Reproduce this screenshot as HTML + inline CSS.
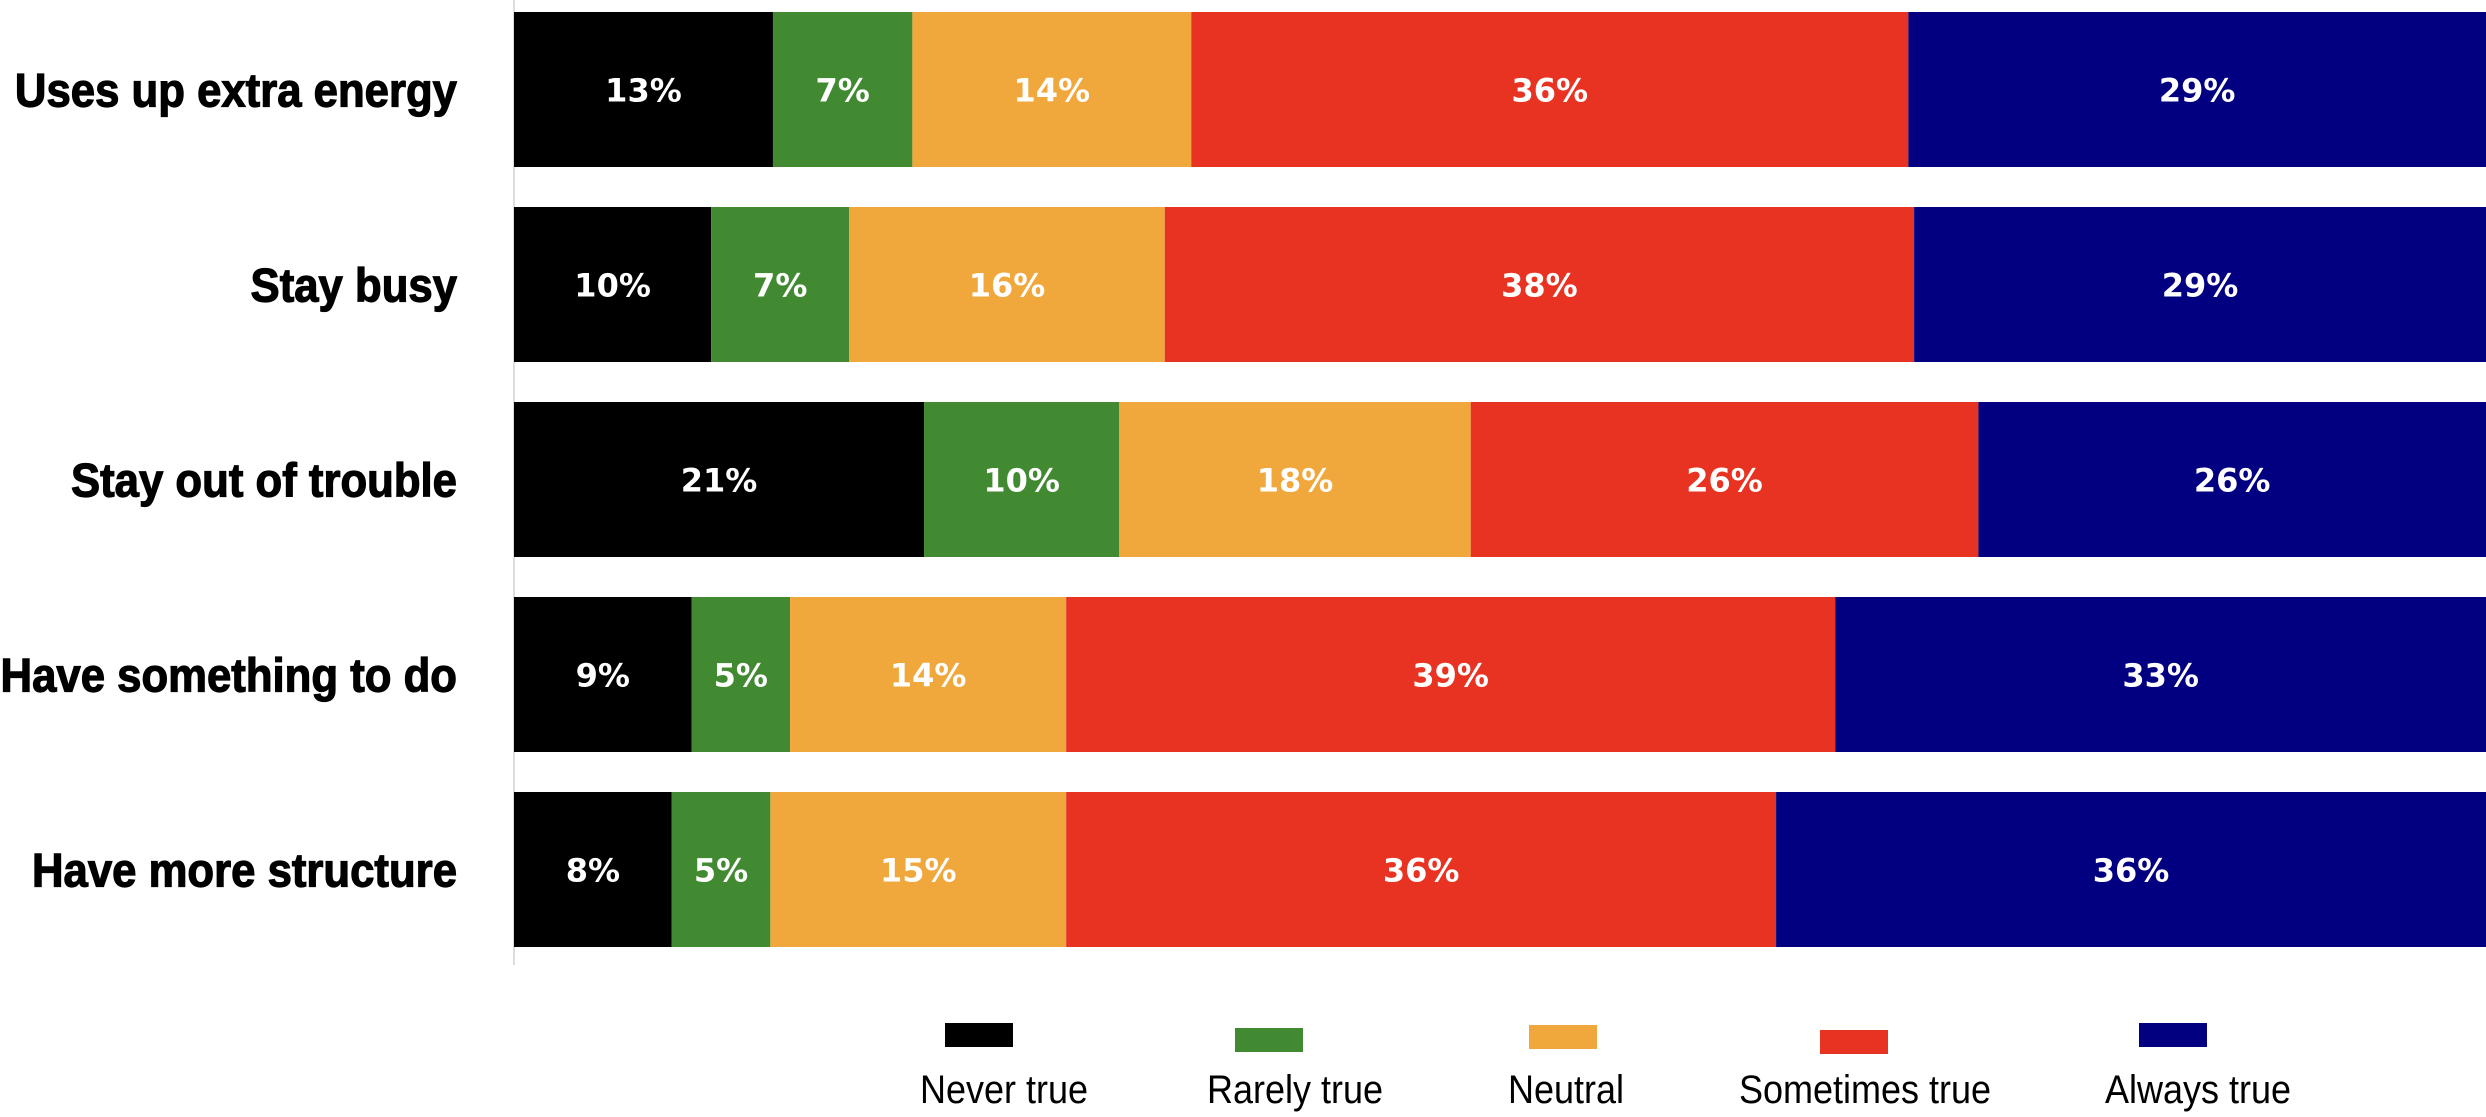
<!DOCTYPE html>
<html><head><meta charset="utf-8"><style>
html,body{margin:0;padding:0;background:#fff;}
svg{display:block;}
</style></head><body>
<svg id="chart" width="2486" height="1117" viewBox="0 0 2486 1117" xmlns="http://www.w3.org/2000/svg">
<line x1="514" y1="0" x2="514" y2="965" stroke="#ddd" stroke-width="2"/>
<g id="bars"></g>
<g id="legend"></g>
</svg>
<script>
const categories = ["Uses up extra energy","Stay busy","Stay out of trouble","Have something to do","Have more structure"];
const seriesNames = ["Never true","Rarely true","Neutral","Sometimes true","Always true"];
const neverTrue = [13,10,21,9,8];
const rarelyTrue = [7,7,10,5,5];
const neutral = [14,16,18,14,15];
const sometimesTrue = [36,38,26,39,36];
const alwaysTrue = [29,29,26,33,36];
const series = [neverTrue, rarelyTrue, neutral, sometimesTrue, alwaysTrue];
const colors = ["#000000","#428a32","#f0a83c","#e83323","#020080"];

const NS = "http://www.w3.org/2000/svg";
const x0 = 514, x1 = 2486, top0 = 12, step = 195, barH = 155;
function xScale(frac){ return x0 + frac*(x1-x0); }
function yBand(i){ return top0 + i*step; }
const g = document.getElementById('bars');
categories.forEach((cat, i) => {
  const total = series.reduce((s, arr) => s + arr[i], 0);
  let cum = 0;
  const y = yBand(i);
  const lab = document.createElementNS(NS, 'text');
  
  
  lab.setAttribute('x', 0); lab.setAttribute('y', 0);
  lab.setAttribute('text-anchor', 'end');
  lab.setAttribute('transform', `translate(457,${y + barH/2 + 17}) scale(0.93,1)`);
  lab.setAttribute('font-family', 'Liberation Sans, sans-serif');
  lab.setAttribute('font-weight', 'bold');
  lab.setAttribute('font-size', '47');
  lab.setAttribute('stroke', '#000');
  lab.setAttribute('stroke-width', '1.2');
  lab.textContent = cat;
  g.appendChild(lab);
  series.forEach((arr, s) => {
    const v = arr[i];
    const xa = xScale(cum/total), xb = xScale((cum+v)/total);
    cum += v;
    const r = document.createElementNS(NS, 'rect');
    
    
    r.setAttribute('x', xa); r.setAttribute('y', y);
    r.setAttribute('width', xb - xa); r.setAttribute('height', barH);
    r.setAttribute('fill', colors[s]);
    g.appendChild(r);
    const t = document.createElementNS(NS, 'text');
    
    
    t.setAttribute('x', (xa + xb)/2); t.setAttribute('y', y + barH/2 + 12);
    t.setAttribute('text-anchor', 'middle');
    t.setAttribute('fill', '#fff');
    t.setAttribute('font-family', 'DejaVu Sans, sans-serif');
    t.setAttribute('font-weight', 'bold');
    t.setAttribute('font-size', '32');
    t.textContent = v + '%';
    g.appendChild(t);
  });
});
const legendX = [945,1235,1529,1820,2139];
const legendY = [1023,1028,1025,1030,1023];
const legendCx = [1004,1295,1566,1865,2198];
const lg = document.getElementById('legend');
seriesNames.forEach((n, s) => {
  const r = document.createElementNS(NS, 'rect');
  
  
  r.setAttribute('x', legendX[s]); r.setAttribute('y', legendY[s]);
  r.setAttribute('width', 68); r.setAttribute('height', 24);
  r.setAttribute('fill', colors[s]);
  lg.appendChild(r);
  const t = document.createElementNS(NS, 'text');
  
  
  t.setAttribute('x', 0); t.setAttribute('y', 0);
  t.setAttribute('text-anchor', 'middle');
  t.setAttribute('transform', `translate(${legendCx[s]},1103) scale(0.9,1)`);
  t.setAttribute('font-family', 'Liberation Sans, sans-serif');
  t.setAttribute('font-size', '40');
  t.textContent = n;
  lg.appendChild(t);
});
</script>
</body></html>
